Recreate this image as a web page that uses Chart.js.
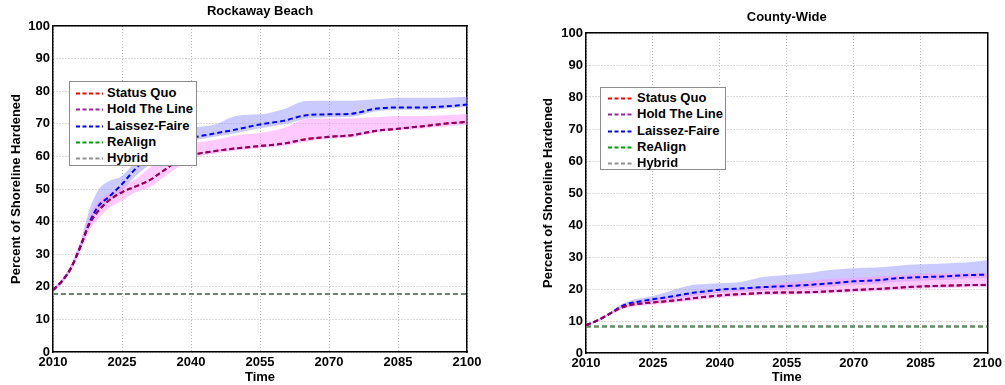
<!DOCTYPE html>
<html>
<head>
<meta charset="utf-8">
<script src="https://cdn.jsdelivr.net/npm/chart.js@4/dist/chart.umd.min.js"></script>
<style>
  body { margin: 0; background: #fff; width: 1005px; height: 385px; overflow: hidden; position: relative; }
  .panel { position: absolute; top: 0; }
  .legend { position: absolute; background: #fff; border: 1px solid #8c8c8c; box-sizing: border-box;
            font: bold 13px "Liberation Sans", Arial, sans-serif; color: #000; }
  .legend .row { position: relative; height: 16.3px; line-height: 16.3px; white-space: nowrap; }
  .legend svg { position: absolute; top: 7px; }
  .legend span { position: absolute; top: 0; }
</style>
</head>
<body>
<div class="panel" style="left:0"><canvas id="rockaway" width="500" height="385"></canvas></div>
<div class="panel" style="left:500px"><canvas id="county" width="505" height="385"></canvas></div>

<script>
// ── data ─────────────────────────────────────────────────────────────────
const years = [2010, 2012, 2014, 2016, 2018, 2020, 2022, 2025, 2028, 2031, 2034, 2037, 2040,
               2045, 2050, 2055, 2060, 2065, 2070, 2075, 2080, 2085, 2090, 2095, 2100];
const flatYears = [2010, 2100];
const xTicks = [2010, 2025, 2040, 2055, 2070, 2085, 2100];
const yTicks = [0, 10, 20, 30, 40, 50, 60, 70, 80, 90, 100];

const seriesNames = ['Status Quo', 'Hold The Line', 'Laissez-Faire', 'ReAlign', 'Hybrid'];
const legendColors = ['#ff0000', '#a020a0', '#0000ff', '#00a000', '#909090'];

// Rockaway Beach
const rockStatusQuo = [19, 21.8, 26, 32.5, 39.5, 43.5, 46.3, 49, 50.8, 52.7, 55.6, 58.5, 60.3,
                       61.6, 62.5, 63.2, 63.9, 65.3, 66, 66.5, 67.8, 68.5, 69.2, 70, 70.6];
const rockHoldTheLine = [19, 21.8, 26, 32.5, 39.5, 43.5, 46.3, 49, 50.8, 52.7, 55.6, 58.5, 60.3,
                         61.6, 62.5, 63.2, 63.9, 65.3, 66, 66.5, 67.8, 68.5, 69.2, 70, 70.6];
const rockLaissez = [19, 21.8, 26, 32.5, 40, 45, 47.4, 51.5, 56.3, 59.8, 62.2, 64.2, 65.6,
                     67, 68.3, 69.8, 70.9, 72.6, 72.9, 73.1, 74.6, 75, 75, 75.3, 75.9];
const rockLaissezHi = [19.5, 22.5, 27, 34, 44, 50, 52.3, 54, 58.5, 62, 65.5, 67.5, 68.7,
                       69.7, 72.5, 72.9, 74.4, 77, 77.1, 77.1, 77.5, 78, 78, 78, 78.3];
const rockLaissezLo = [18.8, 21.3, 25.5, 31.5, 39, 43.5, 46, 49.5, 54, 57.5, 60.5, 62.8, 64.6,
                       66, 67.2, 68.6, 69.8, 71.5, 72, 72.2, 73.8, 74.3, 74.3, 74.6, 75.2];
const rockQuoHi = [19.5, 22.5, 27, 34, 42, 46.5, 48.5, 50.8, 53, 56.5, 59.5, 62, 63.8,
                   65, 66.5, 67.2, 68.6, 71.4, 71.6, 71.7, 72, 72.4, 72.4, 72.6, 73];
const rockQuoLo = [18.5, 21, 25, 31, 37.5, 41, 44, 46.5, 49, 50.5, 53.5, 56.5, 59.3,
                   60.8, 61.8, 62.5, 63.2, 64.5, 65.4, 65.8, 67.2, 68, 68.5, 69.2, 69.6];
const rockReAlign = [17.8, 17.8];
const rockHybrid = [17.8, 17.8];

// County-Wide
const countyStatusQuo = [8.7, 9.8, 11.2, 12.8, 14.2, 15, 15.4, 15.8, 16.2, 16.6, 17.1, 17.6, 18,
                         18.4, 18.8, 18.9, 19, 19.3, 19.7, 20, 20.4, 20.8, 21, 21.2, 21.3];
const countyHoldTheLine = [8.7, 9.8, 11.2, 12.8, 14.2, 15, 15.4, 15.8, 16.2, 16.6, 17.1, 17.6, 18,
                           18.4, 18.8, 18.9, 19, 19.3, 19.7, 20, 20.4, 20.8, 21, 21.2, 21.3];
const countyLaissez = [8.7, 9.8, 11.2, 12.9, 14.6, 15.6, 16.1, 16.8, 17.4, 18.1, 18.8, 19.3, 19.8,
                       20.2, 20.6, 20.9, 21.3, 21.8, 22.4, 22.7, 23.4, 23.7, 23.9, 24.3, 24.5];
const countyLaissezHi = [8.9, 10, 11.5, 13.3, 15.3, 16.4, 17, 17.8, 19, 20.3, 21.3, 21.6, 21.8,
                         22.3, 23.8, 24.4, 25, 26, 26.5, 26.7, 27.3, 27.7, 28, 28.3, 29];
const countyLaissezLo = [8.6, 9.6, 11, 12.6, 14.2, 15, 15.5, 16, 16.6, 17.2, 17.8, 18.3, 18.8,
                         19.2, 19.6, 19.9, 20.3, 20.8, 21.3, 21.6, 22.3, 22.6, 22.8, 23.2, 23.4];
const countyQuoHi = [8.9, 10, 11.5, 13.2, 14.8, 15.6, 16, 16.5, 17.2, 17.9, 18.5, 18.9, 19.2,
                     20, 21, 22, 22.5, 23.2, 23.5, 23.9, 24.3, 24.7, 24.8, 24.9, 25];
const countyQuoLo = [8.5, 9.5, 10.9, 12.4, 13.7, 14.4, 14.8, 15.1, 15.5, 15.9, 16.4, 16.9, 17.3,
                     17.7, 18.1, 18.3, 18.4, 18.7, 19, 19.3, 19.7, 20.1, 20.3, 20.5, 20.6];
const countyReAlign = [8.3, 8.3];
const countyHybrid = [8.3, 8.3];

// ── chart building ───────────────────────────────────────────────────────
Chart.defaults.font.family = '"Liberation Sans", Arial, sans-serif';
Chart.defaults.font.size = 13;
Chart.defaults.font.weight = 'bold';
Chart.defaults.color = '#000';

function pts(xs, ys) {
    return xs.map((x, i) => ({ x: x, y: ys[i] }));
}

function dashed(label, xs, ys, color) {
    return {
        label: label,
        data: pts(xs, ys),
        borderColor: color,
        borderWidth: 2,
        borderDash: [5, 3],
        pointRadius: 0,
        fill: false,
        cubicInterpolationMode: 'monotone'
    };
}

function band(xs, lo, hi, color) {
    return [
        { label: '', data: pts(xs, lo), borderColor: 'rgba(0,0,0,0)', pointRadius: 0, fill: false,
          cubicInterpolationMode: 'monotone' },
        { label: '', data: pts(xs, hi), borderColor: 'rgba(0,0,0,0)', pointRadius: 0, fill: '-1',
          backgroundColor: color, cubicInterpolationMode: 'monotone' }
    ];
}

function buildChart(id, d, lay) {

    // index 0 is painted last, so lines come first and bands last
    const datasets = [
        dashed(seriesNames[1], years, d.hold, 'rgba(120,0,120,0.88)'),
        dashed(seriesNames[0], years, d.quo, '#ff0000'),
        dashed(seriesNames[2], years, d.laissez, '#0000ff'),
        dashed(seriesNames[4], flatYears, d.hybrid, 'rgba(128,128,128,0.85)'),
        dashed(seriesNames[3], flatYears, d.realign, '#00a000'),
        ...band(years, d.quoLo, d.quoHi, 'rgba(255,150,255,0.5)'),
        ...band(years, d.laissezLo, d.laissezHi, 'rgba(150,150,255,0.5)')
    ];

    const fixWidth = w => scale => { scale.width = w; };
    const fixHeight = h => scale => { scale.height = h; };

    return new Chart(document.getElementById(id), {
        type: 'line',
        data: { datasets: datasets },
        options: {
            responsive: false,
            animation: false,
            events: [],
            layout: { padding: lay.padding },
            plugins: {
                legend: { display: false },
                tooltip: { enabled: false },
                filler: { drawTime: 'beforeDatasetsDraw' },
                title: {
                    display: true,
                    text: d.title,
                    fullSize: false,
                    font: { size: 13, weight: 'bold' },
                    padding: lay.titlePad
                }
            },
            scales: {
                x: {
                    type: 'linear',
                    min: xTicks[0],
                    max: xTicks[xTicks.length - 1],
                    afterBuildTicks: s => { s.ticks = xTicks.map(v => ({ value: v })); },
                    afterFit: fixHeight(lay.xHeight),
                    ticks: { padding: 3, maxRotation: 0, autoSkip: false, callback: v => String(v) },
                    grid: { color: '#b4b4b4', lineWidth: 1, drawTicks: false },
                    border: { display: true, color: '#000', width: 1.5, dash: [1, 2] },
                    title: { display: true, text: 'Time', padding: { top: 0, bottom: 0 } }
                },
                y: {
                    min: yTicks[0],
                    max: yTicks[yTicks.length - 1],
                    afterBuildTicks: s => { s.ticks = yTicks.map(v => ({ value: v })); },
                    afterFit: fixWidth(lay.yWidth),
                    ticks: { padding: 3, autoSkip: false },
                    grid: { color: '#b4b4b4', lineWidth: 1, drawTicks: false },
                    border: { display: true, color: '#000', width: 1.5, dash: [1, 2] },
                    title: { display: true, text: 'Percent of Shoreline Hardened', padding: { top: 9, bottom: 0 } }
                },
                xTop: {
                    type: 'linear', position: 'top', min: 0, max: 1,
                    afterFit: fixHeight(0),
                    ticks: { display: false },
                    grid: { display: false, drawTicks: false },
                    border: { display: true, color: '#000', width: 1.5 }
                },
                yRight: {
                    type: 'linear', position: 'right', min: 0, max: 1,
                    afterFit: fixWidth(0),
                    ticks: { display: false },
                    grid: { display: false, drawTicks: false },
                    border: { display: true, color: '#000', width: 1.5 }
                }
            }
        }
    });
}

function buildLegend(box) {
    const el = document.createElement('div');
    el.className = 'legend';
    el.style.left = box.left + 'px';
    el.style.top = box.top + 'px';
    el.style.width = box.width + 'px';
    el.style.height = box.height + 'px';
    el.style.paddingTop = box.padTop + 'px';
    seriesNames.forEach((name, i) => {
        const row = document.createElement('div');
        row.className = 'row';
        row.innerHTML =
            `<svg width="${box.sampleLen}" height="3" style="left:${box.sampleX}px">` +
            `<line x1="0" y1="1.5" x2="${box.sampleLen}" y2="1.5" stroke="${legendColors[i]}" ` +
            `stroke-width="2" stroke-dasharray="4 2.5"/></svg>` +
            `<span style="left:${box.textX}px">${name}</span>`;
        el.appendChild(row);
    });
    document.body.appendChild(el);
}

buildChart('rockaway', {
    title: 'Rockaway Beach',
    quo: rockStatusQuo, hold: rockHoldTheLine, laissez: rockLaissez,
    quoLo: rockQuoLo, quoHi: rockQuoHi, laissezLo: rockLaissezLo, laissezHi: rockLaissezHi,
    realign: rockReAlign, hybrid: rockHybrid
}, {
    padding: { top: 0, left: 0, right: 33, bottom: 0 },
    titlePad: { top: 4, bottom: 6.4 },
    yWidth: 53,
    xHeight: 33
});

buildChart('county', {
    title: 'County-Wide',
    quo: countyStatusQuo, hold: countyHoldTheLine, laissez: countyLaissez,
    quoLo: countyQuoLo, quoHi: countyQuoHi, laissezLo: countyLaissezLo, laissezHi: countyLaissezHi,
    realign: countyReAlign, hybrid: countyHybrid
}, {
    padding: { top: 0, left: 32, right: 15, bottom: 0 },
    titlePad: { top: 10, bottom: 7.4 },
    yWidth: 54,
    xHeight: 32
});

buildLegend({ left: 69, top: 81, width: 128, height: 85, padTop: 3, sampleX: 6, sampleLen: 27, textX: 37 });
buildLegend({ left: 600, top: 87, width: 126, height: 83, padTop: 2, sampleX: 7, sampleLen: 26, textX: 36 });
</script>
</body>
</html>
